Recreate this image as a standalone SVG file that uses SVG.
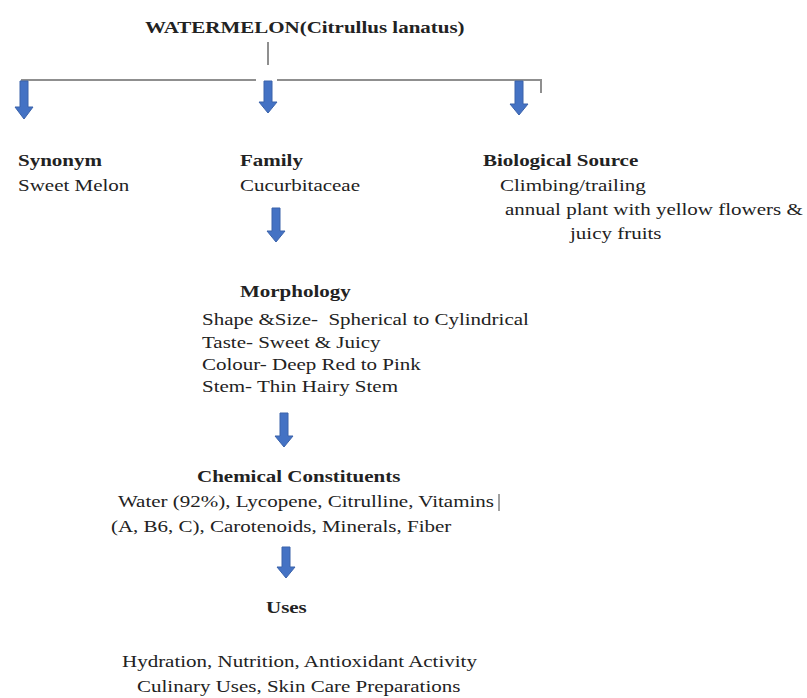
<svg xmlns="http://www.w3.org/2000/svg" width="807" height="698" viewBox="0 0 807 698">
<style>
  text { font-family: 'Liberation Serif', 'DejaVu Serif', 'Times New Roman', Times, serif; font-size: 17.5px; fill: #222; white-space: pre; }
  .b { font-weight: bold; }
  .ln { stroke: #8f8f8f; stroke-width: 2; fill: none; }
  .arr { fill: #4472c4; stroke: #3a62aa; stroke-width: 1; }
  .cur { stroke: #444; stroke-width: 1; }
</style>
<rect width="807" height="698" fill="#ffffff"/>
<g id="connectors">
  <line class="ln" x1="268" y1="42" x2="268" y2="65"/>
  <line class="ln" x1="21" y1="80" x2="256" y2="80"/>
  <line class="ln" x1="277" y1="80" x2="541" y2="80"/>
  <line class="ln" x1="541" y1="79" x2="541" y2="93"/>
  <polygon class="arr" points="20,81 28,81 28,107 33,107 24,119 15,107 20,107"/>
  <polygon class="arr" points="264,81 272,81 272,102 277,102 268,113 259,102 264,102"/>
  <polygon class="arr" points="515,81 523,81 523,104 528,104 519,115 510,104 515,104"/>
  <polygon class="arr" points="272,208 280,208 280,231 285,231 276,242 267,231 272,231"/>
  <polygon class="arr" points="280,413 288,413 288,436 293,436 284,447 275,436 280,436"/>
  <polygon class="arr" points="282,547 290,547 290,567 295,567 286,578 277,567 282,567"/>
</g>
<g id="title" transform="scale(1.2 1)" font-family="Liberation Serif, serif">
  <text class="b" x="120.83" y="33">WATERMELON(Citrullus lanatus)</text>
</g>
<g id="synonym" transform="scale(1.2 1)" font-family="Liberation Serif, serif">
  <text class="b" x="15" y="166">Synonym</text>
  <text x="15" y="191">Sweet Melon</text>
</g>
<g id="family" transform="scale(1.2 1)" font-family="Liberation Serif, serif">
  <text class="b" x="200" y="166">Family</text>
  <text x="200" y="191">Cucurbitaceae</text>
</g>
<g id="biological-source" transform="scale(1.2 1)" font-family="Liberation Serif, serif">
  <text class="b" x="402.5" y="166">Biological Source</text>
  <text x="416.67" y="191">Climbing/trailing</text>
  <text x="420.83" y="215">annual plant with yellow flowers &amp;</text>
  <text x="475" y="239">juicy fruits</text>
</g>
<g id="morphology" transform="scale(1.2 1)" font-family="Liberation Serif, serif">
  <text class="b" x="200" y="297">Morphology</text>
  <text x="168.33" y="325">Shape &amp;Size-  Spherical to Cylindrical</text>
  <text x="168.33" y="348">Taste- Sweet &amp; Juicy</text>
  <text x="168.33" y="370">Colour- Deep Red to Pink</text>
  <text x="168.33" y="392">Stem- Thin Hairy Stem</text>
</g>
<g id="chemical-constituents">
  <g transform="scale(1.2 1)" font-family="Liberation Serif, serif">
    <text class="b" x="164.17" y="482">Chemical Constituents</text>
    <text x="98.33" y="507">Water (92%), Lycopene, Citrulline, Vitamins</text>
    <text x="92.5" y="532">(A, B6, C), Carotenoids, Minerals, Fiber</text>
  </g>
  <line class="cur" x1="499" y1="494" x2="499" y2="511"/>
</g>
<g id="uses" transform="scale(1.2 1)" font-family="Liberation Serif, serif">
  <text class="b" x="221.67" y="613">Uses</text>
  <text x="101.67" y="667">Hydration, Nutrition, Antioxidant Activity</text>
  <text x="114.17" y="692">Culinary Uses, Skin Care Preparations</text>
</g>
</svg>
